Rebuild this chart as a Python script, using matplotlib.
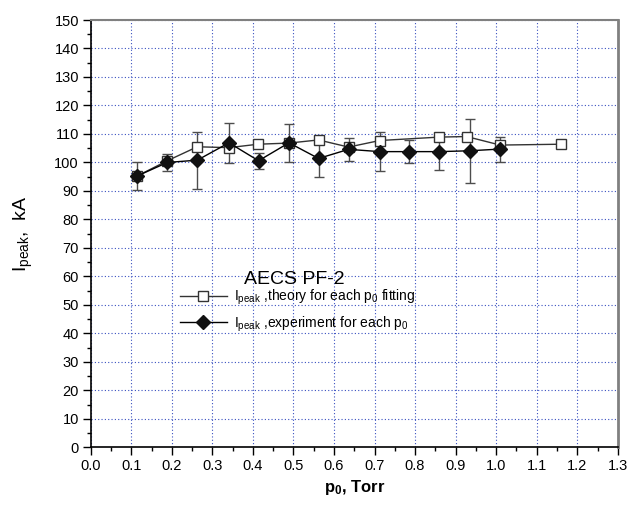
import matplotlib
matplotlib.use("Agg")

import matplotlib.pyplot as plt
from matplotlib.ticker import MultipleLocator


# ============================================================
# Data
# ============================================================

p0_theory = [0.114, 0.189, 0.263, 0.341, 0.413, 0.489, 0.562,
             0.636, 0.713, 0.860, 0.927, 1.010, 1.160]

ipeak_theory = [95.2, 100.6, 105.5, 105.2, 106.4, 106.8, 107.9,
                105.4, 107.7, 108.9, 109.1, 106.1, 106.4]

p0_experiment = [0.114, 0.189, 0.263, 0.341, 0.414, 0.489, 0.562,
                 0.636, 0.713, 0.786, 0.860, 0.935, 1.010]

ipeak_experiment = [95.2, 100.0, 100.8, 106.9, 100.6, 106.9, 101.4,
                    104.6, 103.8, 103.8, 103.8, 104.1, 104.7]

ipeak_error = [5.0, 2.9, 10.0, 7.1, 2.8, 6.7, 6.4,
               4.1, 6.8, 4.1, 6.5, 11.3, 4.4]

label_theory = r"I$_{\mathrm{peak}}$ ,theory for each p$_0$ fitting"
label_experiment = r"I$_{\mathrm{peak}}$ ,experiment for each p$_0$"


# ============================================================
# Fonts
# ============================================================

plt.rcParams["font.family"] = ["Liberation Sans", "DejaVu Sans"]
plt.rcParams["mathtext.fontset"] = "custom"
plt.rcParams["mathtext.rm"] = "Liberation Sans"
plt.rcParams["mathtext.it"] = "Liberation Sans:italic"
plt.rcParams["mathtext.bf"] = "Liberation Sans:bold"


# ============================================================
# Plot
# ============================================================

fig = plt.figure(figsize=(6.32, 5.13), dpi=100)

ax = fig.add_axes([0.1435, 0.128, 0.834, 0.833])

ax.plot(
    p0_theory,
    ipeak_theory,
    color="0.2",
    linewidth=1.0,
    marker="s",
    markersize=6.5,
    markerfacecolor="white",
    markeredgecolor="0.2",
    markeredgewidth=1.0,
    label=label_theory,
    zorder=3
)

# error bars alone, so the legend shows only line and marker
ax.errorbar(
    p0_experiment,
    ipeak_experiment,
    yerr=ipeak_error,
    fmt="none",
    ecolor="0.3",
    elinewidth=1.0,
    capsize=3.3,
    capthick=1.0,
    zorder=2
)

ax.plot(
    p0_experiment,
    ipeak_experiment,
    color="black",
    linewidth=1.0,
    marker="D",
    markersize=7,
    markerfacecolor="#111111",
    markeredgecolor="#111111",
    label=label_experiment,
    zorder=4
)

ax.set_xlim(0.0, 1.3)
ax.set_ylim(0, 150)

ax.xaxis.set_major_locator(MultipleLocator(0.1))
ax.xaxis.set_minor_locator(MultipleLocator(0.05))
ax.yaxis.set_major_locator(MultipleLocator(10))
ax.yaxis.set_minor_locator(MultipleLocator(5))

ax.set_xticklabels([f"{v:.1f}" for v in ax.get_xticks()])

ax.tick_params(axis="both", which="major", direction="out",
               length=5.5, width=1.0, labelsize=10.5, pad=3)
ax.tick_params(axis="both", which="minor", direction="out",
               length=3.2, width=1.0)
ax.tick_params(top=False, right=False, which="both")

ax.grid(True, which="major", color="#3a50c0", linestyle=(0, (1, 2)),
        linewidth=0.8)
ax.set_axisbelow(True)

ax.spines["left"].set_linewidth(1.2)
ax.spines["bottom"].set_linewidth(1.2)
ax.spines["top"].set_color("0.5")
ax.spines["top"].set_linewidth(1.5)
ax.spines["right"].set_color("0.5")
ax.spines["right"].set_linewidth(2.0)

ax.set_xlabel(r"p$_\mathbf{0}$, Torr", fontsize=12, fontweight="bold")
ax.xaxis.set_label_coords(0.5, -0.072)
ax.xaxis.label.set_va("top")

ax.set_ylabel(r"I$_{\mathrm{peak}}$,  kA", fontsize=14)
ax.yaxis.set_label_coords(-0.105, 0.5)

ax.text(0.386, 0.392, "AECS PF-2", transform=ax.transAxes,
        fontsize=14, ha="center", va="center")

ax.legend(
    loc="center left",
    bbox_to_anchor=(0.145, 0.32),
    frameon=False,
    fontsize=10,
    handlelength=3.4,
    handletextpad=0.5,
    labelspacing=0.55,
    numpoints=1
)

fig.savefig("out.png", dpi=100)

plt.close(fig)
